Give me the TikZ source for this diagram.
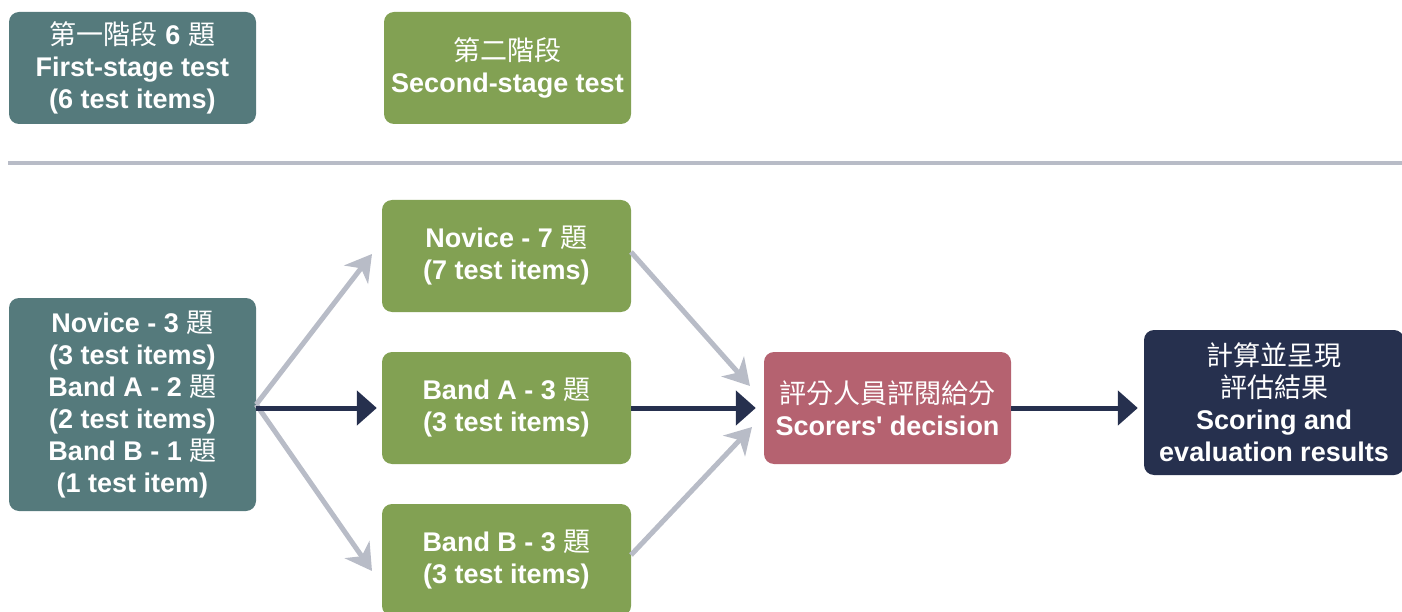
\documentclass[tikz,border=0pt]{standalone}
\usepackage{fontspec}
\setmainfont{Liberation Sans}
\newfontfamily\cjk{Noto Sans CJK TC}
\usetikzlibrary{arrows.meta}
\definecolor{myteal}{RGB}{85,122,124}
\definecolor{mygreen}{RGB}{130,161,83}
\definecolor{mypink}{RGB}{181,98,112}
\definecolor{mynavy}{RGB}{38,48,78}
\definecolor{mygray}{RGB}{184,188,199}
\newcommand{\zh}[1]{{\cjk\mdseries #1}}
\begin{document}
\begin{tikzpicture}[x=1pt,y=-1pt,
  box/.style 2 args={rounded corners=10pt, text=white, font=\bfseries\fontsize{27}{32}\selectfont,
    align=center, inner sep=0pt, minimum width=#1, minimum height=#2},
  grayarrow/.style={draw=mygray, line width=5pt, -{Stealth[length=26pt,width=30pt,inset=8pt]}},
  navyarrow/.style={draw=mynavy, line width=5pt, -{Triangle[length=20pt,width=34pt]}}]
\useasboundingbox (0,0) rectangle (1402,612);
% top row
\node[box={247pt}{112pt}, fill=myteal] (s1) at (132.5,68) {\zh{第一階段} 6 \zh{題}\\First-stage test\\(6 test items)};
\node[box={247pt}{112pt}, fill=mygreen] (s2) at (507.5,68) {\zh{第二階段}\\Second-stage test};
\coordinate (sepL) at (8,163);
\coordinate (sepR) at (1402,163);
\draw[mygray, line width=4pt] (sepL) -- (sepR);
% main flow
\node[box={247pt}{213pt}, fill=myteal] (b3) at (132.5,404.5) {Novice - 3 \zh{題}\\(3 test items)\\Band A - 2 \zh{題}\\(2 test items)\\Band B - 1 \zh{題}\\(1 test item)};
\node[box={249pt}{112pt}, fill=mygreen] (nov) at (506.5,256) {Novice - 7 \zh{題}\\(7 test items)};
\node[box={249pt}{112pt}, fill=mygreen] (ba) at (506.5,408) {Band A - 3 \zh{題}\\(3 test items)};
\node[box={249pt}{112pt}, fill=mygreen] (bb) at (506.5,560) {Band B - 3 \zh{題}\\(3 test items)};
\node[box={247pt}{112pt}, fill=mypink] (sc) at (887.5,408) {\zh{評分人員評閱給分}\\Scorers\textquotesingle{} decision};
\node[box={260pt}{145pt}, fill=mynavy] (res) at (1274,402.5) {\zh{計算並呈現}\\\zh{評估結果}\\Scoring and\\evaluation results};
% arrow end coordinates
\coordinate (t1) at (372,254);
\coordinate (t2) at (372,571);
\coordinate (n1) at (631,252);
\coordinate (e1) at (750,386);
\coordinate (n2) at (631,555);
\coordinate (e2) at (752,427);
\draw[grayarrow] (b3.east) -- (t1);
\draw[grayarrow] (b3.east) -- (t2);
\draw[grayarrow] (n1) -- (e1);
\draw[grayarrow] (n2) -- (e2);
\draw[navyarrow, shorten >=5pt] (b3.east |- ba.west) -- (ba.west);
\draw[navyarrow, shorten >=8pt] (ba.east) -- (sc.west);
\draw[navyarrow, shorten >=6pt] (sc.east) -- (sc.east -| res.west);
\end{tikzpicture}
\end{document}
